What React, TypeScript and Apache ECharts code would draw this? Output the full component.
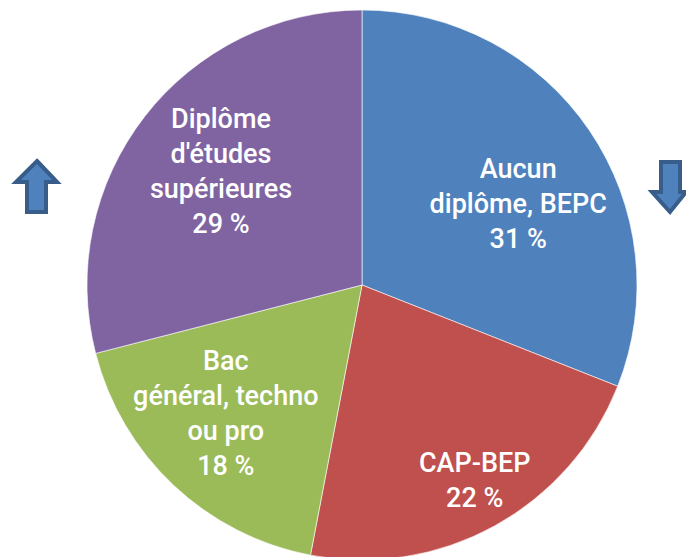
import React, { useEffect, useRef } from "react";
import * as echarts from "echarts";

const categories = ["Aucun\ndiplôme, BEPC", "CAP-BEP", "Bac\ngénéral, techno\nou pro", "Diplôme\nd'études\nsupérieures"];
const values = [31, 22, 18, 29];
const colors = ["#4f81bd", "#c0504d", "#9bbb59", "#8064a2"];
const labelOffsets = [[40, -2], [45, 72], [-40, 26], [-30, -27]];

export default function App() {
  const ref = useRef<HTMLDivElement>(null);
  useEffect(() => {
    const chart = echarts.init(ref.current!, null, { renderer: "svg" });
    const arrowStyle = { fill: "#4f81bd", stroke: "#385d8a", lineWidth: 4 };
    chart.setOption({
      animation: false,
      backgroundColor: "#ffffff",
      series: [
        {
          type: "pie",
          center: [362, 285],
          radius: 275,
          startAngle: 90,
          clockwise: true,
          avoidLabelOverlap: false,
          itemStyle: { borderColor: "rgba(255,255,255,0.6)", borderWidth: 1 },
          label: {
            show: true,
            position: "inside",
            color: "#ffffff",
            fontFamily: "Roboto",
            fontWeight: 500,
            fontSize: 27,
            lineHeight: 35,
            align: "center",
            formatter: (p: any) => `${p.name}\n${p.value} %`,
          },
          emphasis: { disabled: true },
          data: categories.map((c, i) => ({
            name: c,
            value: values[i],
            itemStyle: { color: colors[i] },
            label: { offset: labelOffsets[i] },
          })),
        },
      ],
      graphic: [
        {
          type: "polygon",
          shape: { points: [[37, 161], [57, 182], [46, 182], [46, 212], [27, 212], [27, 182], [16, 182]] },
          style: arrowStyle,
        },
        {
          type: "polygon",
          shape: { points: [[661, 162], [680, 162], [680, 192], [686, 192], [670, 212], [652, 192], [661, 192]] },
          style: arrowStyle,
        },
      ],
    });
    return () => chart.dispose();
  }, []);
  return <div ref={ref} style={{ position: "fixed", left: 0, top: 0, width: 686, height: 557 }} />;
}
